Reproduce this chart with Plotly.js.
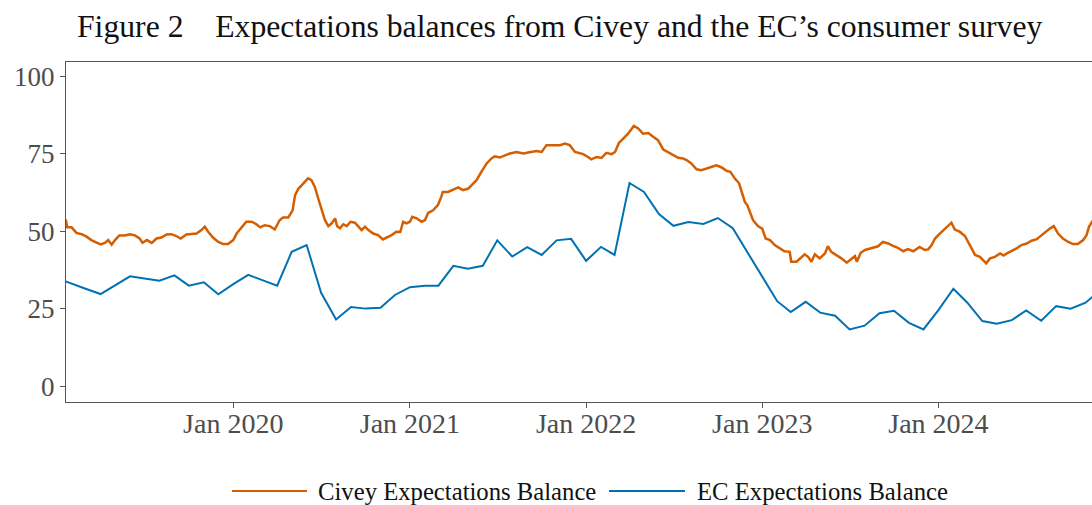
<!DOCTYPE html>
<html>
<head>
<meta charset="utf-8">
<script src="https://cdn.plot.ly/plotly-3.0.1.min.js"></script>
<style>
html,body{margin:0;padding:0;overflow:hidden;background:#fff;}
#chart{width:1094px;height:505px;}
</style>
</head>
<body>
<div id="chart"></div>
<script>
// ---- Data ----
const seriesNames = ["Civey Expectations Balance", "EC Expectations Balance"];

const civeyDates = [
"2019-01-19","2019-01-22","2019-01-31","2019-02-10","2019-02-21","2019-03-03","2019-03-13","2019-03-24","2019-04-01","2019-04-10","2019-04-17","2019-04-24","2019-05-01","2019-05-10","2019-05-21","2019-06-01","2019-06-11","2019-06-21","2019-06-27","2019-07-06","2019-07-16","2019-07-26","2019-08-05","2019-08-16","2019-08-26","2019-09-05","2019-09-14","2019-09-26","2019-10-07","2019-10-17","2019-10-27","2019-11-03","2019-11-10","2019-11-20","2019-12-01","2019-12-11","2019-12-21",
"2020-01-01","2020-01-08","2020-01-14","2020-01-21","2020-01-28","2020-02-08","2020-02-18","2020-02-26","2020-03-06","2020-03-17","2020-03-27","2020-04-06","2020-04-13","2020-04-24","2020-05-03","2020-05-08","2020-05-15","2020-05-22","2020-05-29","2020-06-04","2020-06-11","2020-06-18","2020-06-25","2020-07-02","2020-07-09","2020-07-16","2020-07-23","2020-07-30","2020-08-03","2020-08-09","2020-08-16","2020-08-23","2020-08-31","2020-09-09","2020-09-16","2020-09-23","2020-09-30","2020-10-07","2020-10-17","2020-10-27","2020-11-06","2020-11-15","2020-11-24","2020-12-04","2020-12-12","2020-12-18","2020-12-25",
"2021-01-01","2021-01-06","2021-01-15","2021-01-25","2021-02-01","2021-02-08","2021-02-18","2021-02-28","2021-03-07","2021-03-10","2021-03-21","2021-03-31","2021-04-11","2021-04-21","2021-05-02","2021-05-09","2021-05-19","2021-05-29","2021-06-09","2021-06-19","2021-06-26","2021-07-06","2021-07-17","2021-07-27","2021-08-10","2021-08-24","2021-09-06","2021-09-20","2021-10-01","2021-10-11","2021-10-25","2021-11-08","2021-11-18","2021-11-28","2021-12-09","2021-12-19","2021-12-26",
"2022-01-05","2022-01-12","2022-01-23","2022-02-02","2022-02-12","2022-02-23","2022-03-02","2022-03-10","2022-03-19","2022-03-29","2022-04-10","2022-04-19","2022-04-29","2022-05-10","2022-05-20","2022-05-30","2022-06-10","2022-06-20","2022-06-30","2022-07-11","2022-07-21","2022-07-29","2022-08-07","2022-08-18","2022-08-28","2022-09-07","2022-09-18","2022-09-28","2022-10-09","2022-10-19","2022-10-27","2022-11-05","2022-11-14","2022-11-21","2022-11-26","2022-12-01","2022-12-06","2022-12-13","2022-12-23",
"2023-01-01","2023-01-08","2023-01-17","2023-01-27","2023-02-06","2023-02-16","2023-02-27","2023-03-02","2023-03-13","2023-03-23","2023-03-30","2023-04-06","2023-04-13","2023-04-20","2023-04-30","2023-05-11","2023-05-17","2023-05-24","2023-06-04","2023-06-14","2023-06-25","2023-07-05","2023-07-12","2023-07-16","2023-07-24","2023-08-02","2023-08-15","2023-08-29","2023-09-08","2023-09-19","2023-09-29","2023-10-09","2023-10-20","2023-10-30","2023-11-10","2023-11-20","2023-11-23","2023-12-04","2023-12-11","2023-12-18","2023-12-25",
"2024-01-04","2024-01-14","2024-01-21","2024-01-28","2024-02-04","2024-02-14","2024-02-25","2024-03-03","2024-03-10","2024-03-17","2024-03-27","2024-04-03","2024-04-09","2024-04-17","2024-04-27","2024-05-08","2024-05-15","2024-05-22","2024-06-01","2024-06-11","2024-06-21","2024-07-02","2024-07-12","2024-07-23","2024-08-02","2024-08-12","2024-08-19","2024-08-27","2024-09-05","2024-09-15","2024-09-26","2024-10-06","2024-10-16","2024-10-27","2024-11-03","2024-11-08","2024-11-14","2024-11-20"
];
const civeyValues = [
53.8,51.3,51.3,49.5,49.1,48.3,47.2,46.3,45.8,46.3,47.2,45.7,47.2,48.7,48.7,49.1,48.7,47.7,46.3,47.2,46.3,47.7,48.0,49.0,49.1,48.5,47.7,49.0,49.1,49.3,50.4,51.5,49.9,48.0,46.6,45.9,45.9,
47.2,49.3,50.4,52.0,53.1,53.1,52.3,51.3,52.0,51.7,50.6,53.6,54.5,54.5,56.8,61.7,63.8,64.9,66.0,67.1,66.5,64.3,60.6,56.8,53.6,51.7,52.6,54.2,51.7,51.0,52.3,51.7,53.1,52.8,51.7,50.4,51.5,50.4,49.3,48.8,47.4,48.0,48.8,49.9,49.8,53.1,52.6,
53.1,54.7,54.2,53.1,53.6,56.0,56.8,58.5,61.1,62.7,62.7,63.3,64.2,63.3,63.8,64.9,66.5,69.2,71.9,73.5,74.2,73.8,74.6,75.1,75.6,75.1,75.5,75.9,75.6,77.8,77.8,77.8,78.3,77.8,75.6,75.1,74.9,
74.0,73.2,74.0,73.7,75.3,74.9,75.6,78.5,79.9,81.5,84.0,83.2,81.5,81.7,80.5,79.4,76.4,75.6,74.6,73.7,73.5,72.9,71.9,70.0,69.7,70.3,70.8,71.3,70.6,69.5,69.2,67.1,65.5,61.5,59.5,58.5,56.5,53.6,51.7,
50.9,47.7,47.2,45.6,44.5,43.6,43.4,40.2,40.2,41.8,42.6,41.8,40.2,42.6,41.3,42.9,45.2,43.4,42.4,41.3,39.9,41.3,42.0,40.2,43.1,44.0,44.7,45.2,46.6,46.1,45.3,44.7,43.6,44.3,43.6,44.5,45.0,44.0,44.2,45.6,47.7,
49.3,50.9,51.7,52.8,50.6,49.9,48.5,46.6,44.5,42.4,41.8,40.7,39.7,41.3,41.8,42.9,42.2,42.9,43.7,44.5,45.6,46.1,47.0,47.5,48.8,50.1,50.9,51.7,49.3,47.7,46.6,45.9,45.9,47.2,48.8,51.5,52.8,54.5
];

const ecMonths = [
"2019-01-01","2019-02-01","2019-03-01","2019-04-01","2019-05-01","2019-06-01","2019-07-01","2019-08-01","2019-09-01","2019-10-01","2019-11-01","2019-12-01",
"2020-01-01","2020-02-01","2020-03-01","2020-04-01","2020-05-01","2020-06-01","2020-07-01","2020-08-01","2020-09-01","2020-10-01","2020-11-01","2020-12-01",
"2021-01-01","2021-02-01","2021-03-01","2021-04-01","2021-05-01","2021-06-01","2021-07-01","2021-08-01","2021-09-01","2021-10-01","2021-11-01","2021-12-01",
"2022-01-01","2022-02-01","2022-03-01","2022-04-01","2022-05-01","2022-06-01","2022-07-01","2022-08-01","2022-09-01","2022-10-01","2022-11-01","2022-12-01",
"2023-01-01","2023-02-01","2023-03-01","2023-04-01","2023-05-01","2023-06-01","2023-07-01","2023-08-01","2023-09-01","2023-10-01","2023-11-01","2023-12-01",
"2024-01-01","2024-02-01","2024-03-01","2024-04-01","2024-05-01","2024-06-01","2024-07-01","2024-08-01","2024-09-01","2024-10-01","2024-11-01","2024-12-01"
];
const ecValues = [
34.9,33.0,31.5,29.8,32.5,35.5,34.8,34.1,35.8,32.5,33.6,29.7,
33.0,36.0,34.3,32.5,43.4,45.6,30.2,21.6,25.6,25.1,25.4,29.5,
32.0,32.5,32.5,38.9,38.0,38.9,47.1,41.9,44.9,42.4,47.1,47.6,
40.5,45.0,42.4,65.6,62.7,55.6,51.8,53.0,52.4,54.3,51.0,43.4,
35.4,27.5,24.0,27.3,23.8,22.8,18.4,19.6,23.6,24.4,20.5,18.4,
24.6,31.5,27.0,21.1,20.2,21.4,24.5,21.2,25.9,25.1,27.0,31.0
];

const xTickVals = ["2020-01-01","2021-01-01","2022-01-01","2023-01-01","2024-01-01"];
const xTickText = ["Jan 2020","Jan 2021","Jan 2022","Jan 2023","Jan 2024"];
const yTickVals = [0, 25, 50, 75, 100];
const titleText = "Figure 2\u2003Expectations balances from Civey and the EC\u2019s consumer survey";

// ---- Styling ----
const colors = ["#D55E00", "#0072B2"];
const serif = "Liberation Serif, Times New Roman, serif";
const W = 1094, H = 505;
const M = {l: 66, r: 1, t: 62, b: 103};
const pw = W - M.l - M.r, ph = H - M.t - M.b;
const px = v => (v - M.l) / pw;          // container px -> paper x
const py = v => (H - M.b - v) / ph;      // container px -> paper y

const traces = [
  {x: civeyDates, y: civeyValues, type: "scatter", mode: "lines", name: seriesNames[0],
   line: {color: colors[0], width: 2.5}, showlegend: false},
  {x: ecMonths, y: ecValues, type: "scatter", mode: "lines", name: seriesNames[1],
   line: {color: colors[1], width: 2}, showlegend: false}
];

// custom legend (long swatches like the reference)
const legY = py(491);
const legendItems = [
  {x0: 232, x1: 307, tx: 316},
  {x0: 609, x1: 685, tx: 695}
];
const shapes = legendItems.map((it, i) => ({
  type: "line", xref: "paper", yref: "paper",
  x0: px(it.x0), x1: px(it.x1), y0: legY, y1: legY,
  line: {color: colors[i], width: 2}
}));
const annotations = legendItems.map((it, i) => ({
  xref: "paper", yref: "paper", x: px(it.tx), y: legY,
  xanchor: "left", yanchor: "middle", showarrow: false,
  text: seriesNames[i], font: {family: serif, size: 24.7, color: "#111"}
}));

const axisCommon = {
  showgrid: false, zeroline: false, showline: true, mirror: true,
  linecolor: "#555", linewidth: 1, ticks: "outside", ticklen: 5,
  tickcolor: "#555", tickwidth: 1
};

const layout = {
  width: W, height: H, margin: M,
  paper_bgcolor: "#fff", plot_bgcolor: "#fff",
  title: {text: titleText, font: {family: serif, size: 31.7, color: "#111"},
          x: 77 / W, xref: "container", xanchor: "left",
          y: 1 - 26 / H, yref: "container", yanchor: "middle"},
  xaxis: Object.assign({}, axisCommon, {
    type: "date", range: ["2019-01-19 10:00", "2024-11-16 08:00"],
    tickmode: "array", tickvals: xTickVals, ticktext: xTickText,
    ticklabelstandoff: -9,
    tickfont: {family: serif, size: 28, color: "#4d4d4d"}
  }),
  yaxis: Object.assign({}, axisCommon, {
    range: [-5, 104.6], tickmode: "array", tickvals: yTickVals,
    tickfont: {family: serif, size: 27, color: "#4d4d4d"}
  }),
  shapes: shapes, annotations: annotations, showlegend: false
};

Plotly.newPlot("chart", traces, layout, {displayModeBar: false, staticPlot: true});
</script>
</body>
</html>
